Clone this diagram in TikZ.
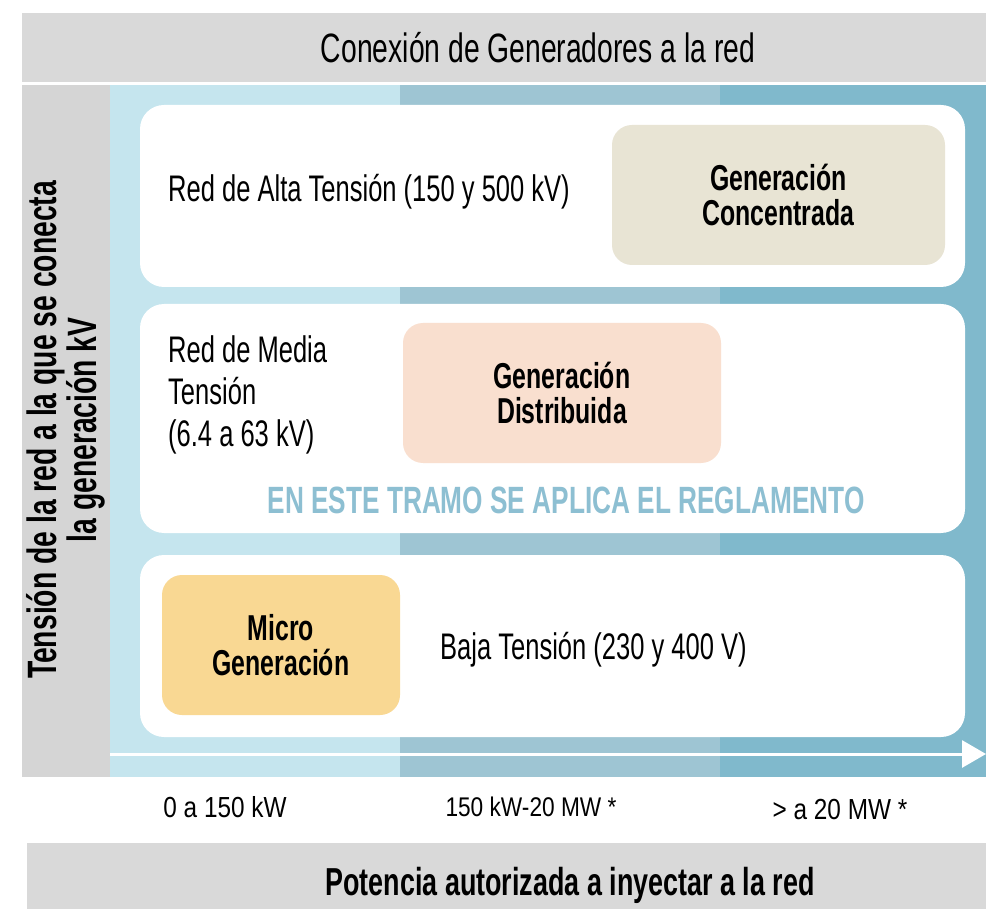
\documentclass[tikz,border=0pt]{standalone}
\usepackage{fontspec}
\setmainfont{Liberation Sans}[FakeStretch=0.69]
\newfontfamily\axisfont{Liberation Sans}[FakeStretch=0.84]
\usetikzlibrary{arrows.meta,positioning}
\definecolor{bandgray}{HTML}{D9D9D9}
\definecolor{colgray}{HTML}{D5D5D5}
\definecolor{lightblue}{HTML}{C5E5EE}
\definecolor{midblue}{HTML}{9EC5D3}
\definecolor{darkblue}{HTML}{80B9CC}
\definecolor{beige}{HTML}{E8E4D4}
\definecolor{peach}{HTML}{F9DFCF}
\definecolor{apricot}{HTML}{F9D893}
\definecolor{rulecol}{HTML}{8DBFD2}
\tikzset{
  panel/.style={fill=white, rounded corners=24pt, inner sep=0pt},
  genbox/.style={rounded corners=20pt, inner sep=0pt, align=center,
    font=\bfseries\fontsize{36}{35}\selectfont},
  plain/.style={font=\fontsize{37}{42}\selectfont, inner sep=0pt},
  axislbl/.style={font=\axisfont\fontsize{29}{30}\selectfont, inner sep=0pt},
}
\begin{document}
\begin{tikzpicture}[x=1pt, y=-1pt]
  \useasboundingbox (0,0) rectangle (986,909);
  % bands
  \fill[bandgray] (22,13) rectangle (986,82);
  \fill[colgray] (22,85) rectangle (110,777);
  \fill[lightblue] (110,85) rectangle (400,777);
  \fill[midblue] (400,85) rectangle (720,777);
  \fill[darkblue] (720,85) rectangle (986,777);
  \fill[bandgray] (27,843) rectangle (986,909);
  \node[font=\fontsize{41}{41}\selectfont] (titulo) at (538,48) {Conexión de Generadores a la red};
  \node[font=\bfseries\fontsize{39}{39}\selectfont] (potencia) at (570,885) {Potencia autorizada a inyectar a la red};
  \node[rotate=90, align=center, inner sep=0pt, font=\bfseries\fontsize{41}{31}\selectfont] (tension) at (66,430)
    {Tensión de la red a la que se conecta\\la generación kV};
  % panels
  \node[panel, minimum width=825pt, minimum height=182pt] (alta) at (552.5,196) {};
  \node[panel, minimum width=825pt, minimum height=229pt] (media) at (552.5,418.5) {};
  \node[panel, minimum width=825pt, minimum height=182pt] (baja) at (552.5,646) {};
  \node[genbox, fill=beige, minimum width=333pt, minimum height=140pt] (concentrada) at (778.5,195)
    {Generación\\Concentrada};
  \node[genbox, fill=peach, minimum width=318pt, minimum height=140pt] (distribuida) at (562,393)
    {Generación\\Distribuida};
  \node[genbox, fill=apricot, minimum width=238pt, minimum height=140pt] (micro) at (281,645)
    {Micro\\Generación};
  \node[plain, anchor=west] (altatxt) at (168,192) {Red de Alta Tensión (150 y 500 kV)};
  \node[plain, anchor=west, align=left] (mediatxt) at (168,395) {Red de Media\\Tensión\\(6.4 a 63 kV)};
  \node[plain, anchor=west] (bajatxt) at (440,650) {Baja Tensión (230 y 400 V)};
  \node[text=rulecol, font=\bfseries\fontsize{38}{38}\selectfont] (tramo) at (566,500)
    {EN ESTE TRAMO SE APLICA EL REGLAMENTO};
  % axis
  \coordinate (axstart) at (110,754);
  \coordinate (axend) at (986,754);
  \draw[white, line width=3pt, -{Triangle[length=24pt, width=27pt]}] (axstart) -- (axend);
  \node[axislbl] (lowlbl) at (225,807) {0 a 150 kW};
  \node[axislbl, font=\axisfont\fontsize{27}{28}\selectfont] (midlbl) at (531,807) {150 kW-20 MW *};
  \node[axislbl] (highlbl) at (840,810) {> a 20 MW *};
\end{tikzpicture}
\end{document}
